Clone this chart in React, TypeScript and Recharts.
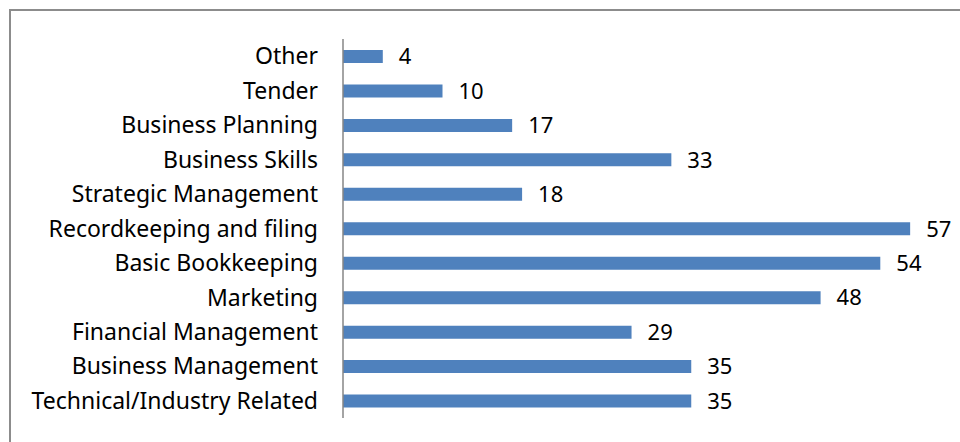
import { BarChart, Bar, XAxis, YAxis, LabelList } from 'recharts';

// 培訓主題（由上而下）
const topics = [
    'Other',
    'Tender',
    'Business Planning',
    'Business Skills',
    'Strategic Management',
    'Recordkeeping and filing',
    'Basic Bookkeeping',
    'Marketing',
    'Financial Management',
    'Business Management',
    'Technical/Industry Related',
];
const counts = [4, 10, 17, 33, 18, 57, 54, 48, 29, 35, 35];

const data = topics.map((topic, i) => ({ topic, count: counts[i] }));

const FONT = '"Noto Sans", sans-serif';

export default function App() {
    return (
        <div style={{ position: 'relative', width: 960, height: 442, overflow: 'hidden', background: '#fff' }}>
            <style>{'body { margin: 0; }'}</style>
            <div
                style={{
                    position: 'absolute',
                    left: 9,
                    top: 9,
                    width: 1000,
                    height: 500,
                    border: '2px solid #8c8c8c',
                    boxSizing: 'border-box',
                }}
            />
            <BarChart
                width={960}
                height={442}
                data={data}
                layout="vertical"
                margin={{ top: 39, right: 20, left: 0, bottom: 24 }}
                barSize={13}
                style={{ position: 'absolute', left: 0, top: 0 }}
            >
                <XAxis type="number" domain={[0, 60]} hide />
                <YAxis
                    type="category"
                    dataKey="topic"
                    width={343}
                    interval={0}
                    tickLine={false}
                    tickSize={0}
                    tickMargin={25}
                    axisLine={{ stroke: '#868686', strokeWidth: 1.5 }}
                    tick={{ fill: '#000', fontSize: 23, fontFamily: FONT }}
                />
                <Bar dataKey="count" fill="#4F81BD" isAnimationActive={false}>
                    <LabelList
                        dataKey="count"
                        position="right"
                        offset={16}
                        style={{ fill: '#000', fontSize: 22, fontFamily: FONT }}
                    />
                </Bar>
            </BarChart>
        </div>
    );
}
